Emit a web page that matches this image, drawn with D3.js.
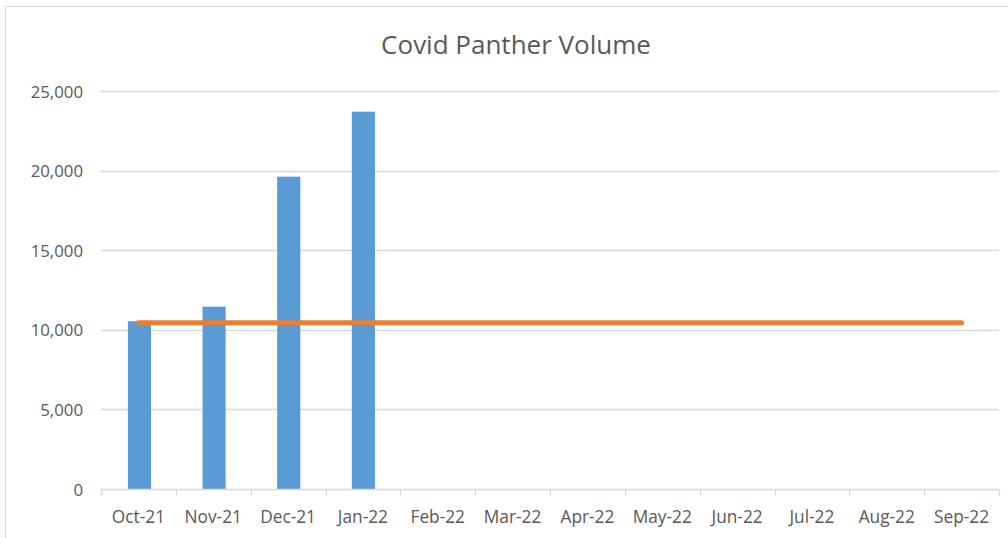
<!DOCTYPE html>
<html><head><meta charset="utf-8">
<script src="https://cdn.jsdelivr.net/npm/d3@7"></script>
<style>html,body{margin:0;padding:0;background:#fff;}</style>
</head><body>
<svg id="c" width="1008" height="538"></svg>
<script>
const title = "Covid Panther Volume";
const categories = ["Oct-21","Nov-21","Dec-21","Jan-22","Feb-22","Mar-22","Apr-22","May-22","Jun-22","Jul-22","Aug-22","Sep-22"];
const volume = [10540, 11450, 19620, 23700, null, null, null, null, null, null, null, null];
const average = [10450, 10450, 10450, 10450, 10450, 10450, 10450, 10450, 10450, 10450, 10450, 10450];
const yTicks = [0, 5000, 10000, 15000, 20000, 25000];

(function(){
const svg = d3.select("#c");
const font = "'Open Sans', 'Noto Sans', sans-serif";
svg.append("rect").attr("x",5.5).attr("y",6.5).attr("width",1010).attr("height",540)
  .attr("fill","#fff").attr("stroke","#D9D9D9").attr("stroke-width",1);

const pL = 101, pR = 999, pT = 91, pB = 489;
const x = d3.scaleBand().domain(categories).range([pL, pR]).paddingInner(0.69).paddingOuter(0.36);
const xc = d3.scaleBand().domain(categories).range([pL, pR]);
const y = d3.scaleLinear().domain([0, 25000]).range([pB, pT]);

// gridlines
svg.append("g").selectAll("line").data(yTicks.filter(d=>d>0)).join("line")
  .attr("x1",pL).attr("x2",pR).attr("y1",d=>Math.round(y(d))+0.5).attr("y2",d=>Math.round(y(d))+0.5)
  .attr("stroke","#D9D9D9").attr("stroke-width",1.3);

// y labels
svg.append("g").selectAll("text").data(yTicks).join("text")
  .attr("x",83).attr("y",d=>y(d)+6.5).attr("text-anchor","end")
  .attr("font-family",font).attr("font-size",16.8).attr("fill","#595959")
  .text(d=>d3.format(",")(d));

// bars
svg.append("g").selectAll("rect").data(categories.map((c,i)=>({c,v:volume[i]})).filter(d=>d.v!=null)).join("rect")
  .attr("x",d=>x(d.c)).attr("width",x.bandwidth())
  .attr("y",d=>y(d.v)).attr("height",d=>y(0)-y(d.v)).attr("fill","#5B9BD5");

// x axis
const gx = svg.append("g").attr("transform",`translate(0,${pB+0.5})`);
gx.append("line").attr("x1",pL).attr("x2",pR).attr("stroke","#D9D9D9").attr("stroke-width",1.3);
const tickPos = d3.range(categories.length+1).map(i=>pL + i*xc.step());
gx.selectAll("line.t").data(tickPos).join("line").attr("class","t")
  .attr("x1",d=>Math.round(d)+0.5).attr("x2",d=>Math.round(d)+0.5).attr("y1",0).attr("y2",6)
  .attr("stroke","#D9D9D9").attr("stroke-width",1.3);
gx.selectAll("text").data(categories).join("text")
  .attr("x",d=>xc(d)+xc.bandwidth()/2).attr("y",33)
  .attr("text-anchor","middle").attr("font-family",font).attr("font-size",17.3).attr("fill","#595959")
  .text(d=>d);

// average line
const line = d3.line().x((d,i)=>xc(categories[i])+xc.bandwidth()/2).y(d=>y(d));
svg.append("path").datum(average).attr("d",line).attr("fill","none")
  .attr("stroke","#ED7D31").attr("stroke-width",5).attr("stroke-linecap","round");

// title
svg.append("text").attr("x",516).attr("y",54).attr("text-anchor","middle")
  .attr("font-family",font).attr("font-size",26).attr("fill","#595959").text(title);
})();
</script>
</body></html>
